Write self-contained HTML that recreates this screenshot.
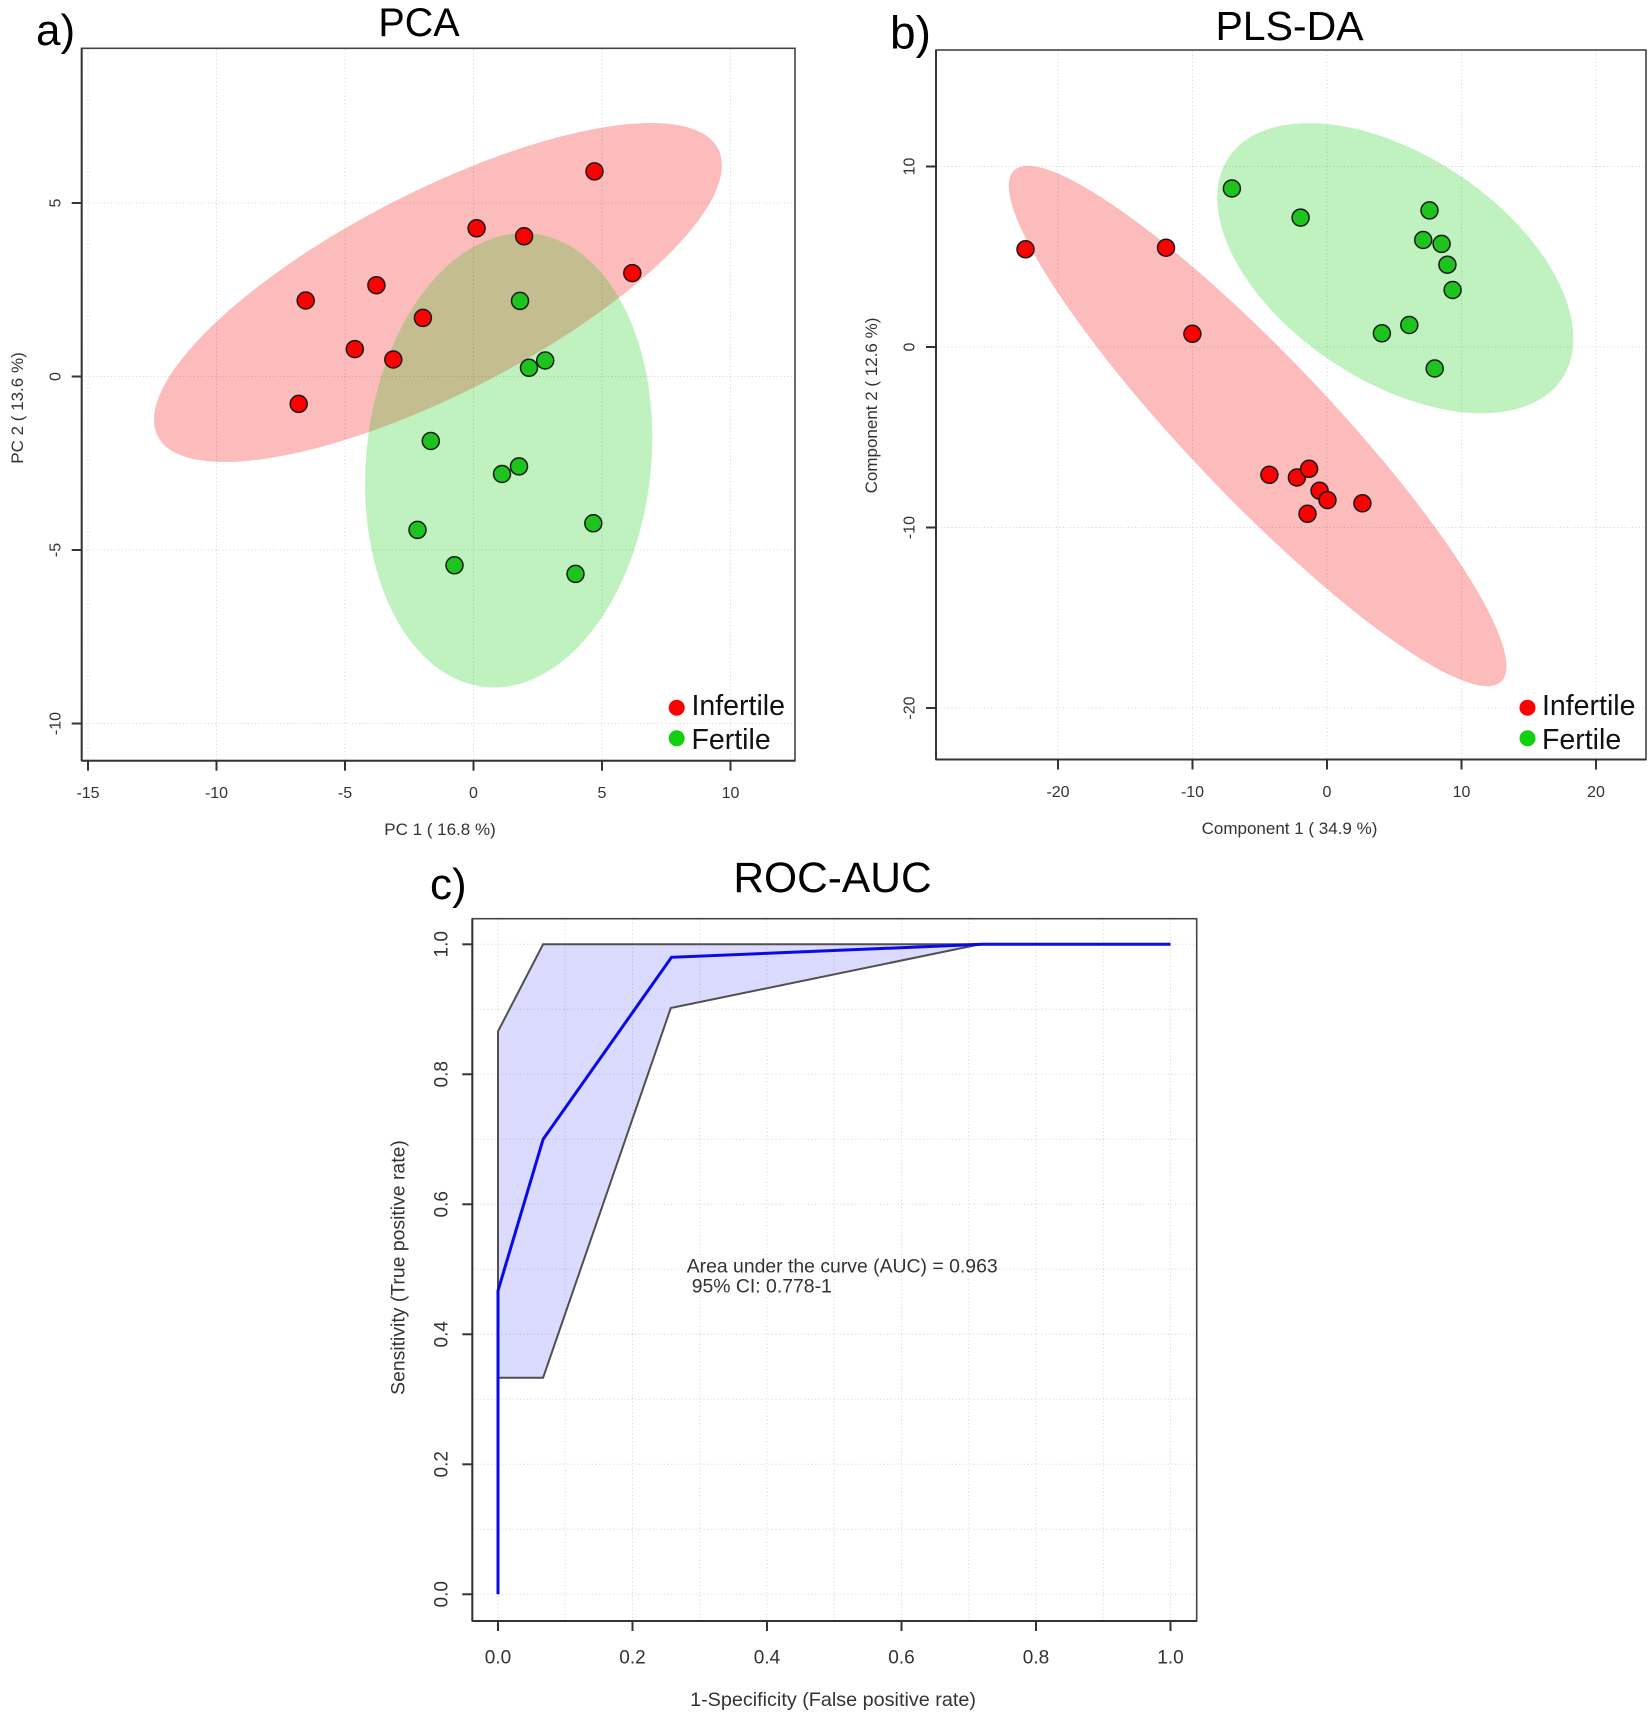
<!DOCTYPE html>
<html>
<head>
<meta charset="utf-8">
<style>
  html,body{margin:0;padding:0;background:#fff;}
  svg{display:block;}
  text{font-family:"Liberation Sans", Arial, sans-serif;}
</style>
</head>
<body>
<svg width="1650" height="1721" viewBox="0 0 1650 1721" xmlns="http://www.w3.org/2000/svg">
  <defs>
    <clipPath id="pcaRed">
      <ellipse cx="-1.384" cy="2.42" rx="11.69" ry="3.05" transform="rotate(19.76 -1.384 2.42)"/>
    </clipPath>
  </defs>
  <rect x="0" y="0" width="1650" height="1721" fill="#fff"/>

  <!-- ================= PCA ================= -->
  <text x="36" y="45" font-size="44" fill="#000">a)</text>
  <text x="419" y="36" font-size="39.5" fill="#000" text-anchor="middle">PCA</text>

  <!-- ellipses -->
  <g transform="translate(473.5,376.5) scale(25.7,-34.7)">
    <ellipse cx="-1.384" cy="2.42" rx="11.69" ry="3.05" transform="rotate(19.76 -1.384 2.42)" fill="#fcbcbc"/>
    <ellipse cx="1.369" cy="-2.415" rx="6.63" ry="5.49" transform="rotate(73.7 1.369 -2.415)" fill="#bff2bf"/>
    <g clip-path="url(#pcaRed)">
      <ellipse cx="1.369" cy="-2.415" rx="6.63" ry="5.49" transform="rotate(73.7 1.369 -2.415)" fill="#c4bd8f"/>
    </g>
  </g>

  <!-- grid -->
  <g stroke="#000" stroke-opacity="0.15" stroke-width="1" stroke-dasharray="1.2,2.4">
    <line x1="88" y1="49" x2="88" y2="760"/>
    <line x1="216.5" y1="49" x2="216.5" y2="760"/>
    <line x1="345" y1="49" x2="345" y2="760"/>
    <line x1="473.5" y1="49" x2="473.5" y2="760"/>
    <line x1="602" y1="49" x2="602" y2="760"/>
    <line x1="730.5" y1="49" x2="730.5" y2="760"/>
    <line x1="82" y1="203" x2="795" y2="203"/>
    <line x1="82" y1="376.5" x2="795" y2="376.5"/>
    <line x1="82" y1="550" x2="795" y2="550"/>
    <line x1="82" y1="723.5" x2="795" y2="723.5"/>
  </g>

  <!-- points -->
  <g stroke="#1a1a1a" stroke-width="1.5" fill="#ff0000">
    <circle cx="594.5" cy="171.4" r="8.5"/>
    <circle cx="476.6" cy="228.3" r="8.5"/>
    <circle cx="524.1" cy="236.3" r="8.5"/>
    <circle cx="632.3" cy="273.1" r="8.5"/>
    <circle cx="305.7" cy="300.5" r="8.5"/>
    <circle cx="376.4" cy="285.2" r="8.5"/>
    <circle cx="422.9" cy="317.9" r="8.5"/>
    <circle cx="354.8" cy="349.1" r="8.5"/>
    <circle cx="393.3" cy="359.5" r="8.5"/>
    <circle cx="298.7" cy="403.9" r="8.5"/>
  </g>
  <g stroke="#1a1a1a" stroke-width="1.5" fill="#1ec41e">
    <circle cx="520.0" cy="300.9" r="8.5"/>
    <circle cx="545.2" cy="360.5" r="8.5"/>
    <circle cx="529.0" cy="367.8" r="8.5"/>
    <circle cx="430.8" cy="441.0" r="8.5"/>
    <circle cx="502.0" cy="474.0" r="8.5"/>
    <circle cx="519.0" cy="466.4" r="8.5"/>
    <circle cx="417.5" cy="529.9" r="8.5"/>
    <circle cx="593.3" cy="523.3" r="8.5"/>
    <circle cx="454.5" cy="565.3" r="8.5"/>
    <circle cx="575.5" cy="573.9" r="8.5"/>
  </g>

  <!-- box & axes -->
  <rect x="81.7" y="48.3" width="713.3" height="712.4" fill="none" stroke="#444" stroke-width="1.6"/>
  <g stroke="#333" stroke-width="2">
    <line x1="81.7" y1="48.3" x2="81.7" y2="760.7"/>
    <line x1="81.7" y1="760.7" x2="795" y2="760.7"/>
    <line x1="88" y1="760.7" x2="88" y2="770.7"/>
    <line x1="216.5" y1="760.7" x2="216.5" y2="770.7"/>
    <line x1="345" y1="760.7" x2="345" y2="770.7"/>
    <line x1="473.5" y1="760.7" x2="473.5" y2="770.7"/>
    <line x1="602" y1="760.7" x2="602" y2="770.7"/>
    <line x1="730.5" y1="760.7" x2="730.5" y2="770.7"/>
    <line x1="71.7" y1="203" x2="81.7" y2="203"/>
    <line x1="71.7" y1="376.5" x2="81.7" y2="376.5"/>
    <line x1="71.7" y1="550" x2="81.7" y2="550"/>
    <line x1="71.7" y1="723.5" x2="81.7" y2="723.5"/>
  </g>
  <g font-size="16" fill="#333" text-anchor="middle">
    <text x="88" y="798">-15</text>
    <text x="216.5" y="798">-10</text>
    <text x="345" y="798">-5</text>
    <text x="473.5" y="798">0</text>
    <text x="602" y="798">5</text>
    <text x="730.5" y="798">10</text>
    <text transform="translate(55,203) rotate(-90)" dy="0.35em">5</text>
    <text transform="translate(55,376.5) rotate(-90)" dy="0.35em">0</text>
    <text transform="translate(55,550) rotate(-90)" dy="0.35em">-5</text>
    <text transform="translate(55,723.5) rotate(-90)" dy="0.35em">-10</text>
  </g>
  <text x="440" y="835" font-size="17" fill="#333" text-anchor="middle">PC 1 ( 16.8 %)</text>
  <text transform="translate(17,408) rotate(-90)" dy="0.35em" font-size="17" fill="#333" text-anchor="middle">PC 2 ( 13.6 %)</text>

  <!-- legend -->
  <circle cx="676.7" cy="707.7" r="8" fill="#ff0000"/>
  <circle cx="676.7" cy="738.3" r="8" fill="#10d010"/>
  <text x="691.5" y="715" font-size="28.5" fill="#111">Infertile</text>
  <text x="691.5" y="749" font-size="28.5" fill="#111">Fertile</text>

  <!-- ================= PLS-DA ================= -->
  <text x="890" y="48.5" font-size="46" fill="#000">b)</text>
  <text x="1289.5" y="40" font-size="41" fill="#000" text-anchor="middle">PLS-DA</text>

  <g transform="translate(1327,347) scale(13.45,-18.05)">
    <ellipse cx="-5.158" cy="-4.376" rx="23.03" ry="4.45" transform="rotate(-37.36 -5.158 -4.376)" fill="#fcbcbc"/>
    <ellipse cx="5.076" cy="4.367" rx="13.99" ry="6.65" transform="rotate(-21.53 5.076 4.367)" fill="#bff2bf"/>
  </g>

  <g stroke="#000" stroke-opacity="0.15" stroke-width="1" stroke-dasharray="1.2,2.4">
    <line x1="1058" y1="51" x2="1058" y2="759"/>
    <line x1="1192.5" y1="51" x2="1192.5" y2="759"/>
    <line x1="1327" y1="51" x2="1327" y2="759"/>
    <line x1="1461.5" y1="51" x2="1461.5" y2="759"/>
    <line x1="1596" y1="51" x2="1596" y2="759"/>
    <line x1="937" y1="166.5" x2="1645" y2="166.5"/>
    <line x1="937" y1="347" x2="1645" y2="347"/>
    <line x1="937" y1="527.5" x2="1645" y2="527.5"/>
    <line x1="937" y1="708" x2="1645" y2="708"/>
  </g>

  <g stroke="#1a1a1a" stroke-width="1.5" fill="#ff0000">
    <circle cx="1025.5" cy="249.3" r="8.5"/>
    <circle cx="1166.0" cy="247.7" r="8.5"/>
    <circle cx="1192.4" cy="333.8" r="8.5"/>
    <circle cx="1269.4" cy="474.8" r="8.5"/>
    <circle cx="1296.9" cy="477.5" r="8.5"/>
    <circle cx="1309.1" cy="468.8" r="8.5"/>
    <circle cx="1319.6" cy="490.7" r="8.5"/>
    <circle cx="1327.5" cy="500.1" r="8.5"/>
    <circle cx="1307.5" cy="513.8" r="8.5"/>
    <circle cx="1362.4" cy="503.3" r="8.5"/>
  </g>
  <g stroke="#1a1a1a" stroke-width="1.5" fill="#1ec41e">
    <circle cx="1231.9" cy="188.5" r="8.5"/>
    <circle cx="1300.6" cy="217.6" r="8.5"/>
    <circle cx="1429.5" cy="210.4" r="8.5"/>
    <circle cx="1423.2" cy="240.0" r="8.5"/>
    <circle cx="1441.6" cy="243.9" r="8.5"/>
    <circle cx="1447.4" cy="264.7" r="8.5"/>
    <circle cx="1452.6" cy="290.0" r="8.5"/>
    <circle cx="1381.9" cy="333.3" r="8.5"/>
    <circle cx="1409.3" cy="325.0" r="8.5"/>
    <circle cx="1434.7" cy="368.5" r="8.5"/>
  </g>

  <rect x="936" y="50" width="710" height="709.5" fill="none" stroke="#444" stroke-width="1.6"/>
  <g stroke="#333" stroke-width="2">
    <line x1="936" y1="50" x2="936" y2="759.5"/>
    <line x1="936" y1="759.5" x2="1646" y2="759.5"/>
    <line x1="1058" y1="759.5" x2="1058" y2="769.5"/>
    <line x1="1192.5" y1="759.5" x2="1192.5" y2="769.5"/>
    <line x1="1327" y1="759.5" x2="1327" y2="769.5"/>
    <line x1="1461.5" y1="759.5" x2="1461.5" y2="769.5"/>
    <line x1="1596" y1="759.5" x2="1596" y2="769.5"/>
    <line x1="926" y1="166.5" x2="936" y2="166.5"/>
    <line x1="926" y1="347" x2="936" y2="347"/>
    <line x1="926" y1="527.5" x2="936" y2="527.5"/>
    <line x1="926" y1="708" x2="936" y2="708"/>
  </g>
  <g font-size="16" fill="#333" text-anchor="middle">
    <text x="1058" y="797">-20</text>
    <text x="1192.5" y="797">-10</text>
    <text x="1327" y="797">0</text>
    <text x="1461.5" y="797">10</text>
    <text x="1596" y="797">20</text>
    <text transform="translate(909,166.5) rotate(-90)" dy="0.35em">10</text>
    <text transform="translate(909,347) rotate(-90)" dy="0.35em">0</text>
    <text transform="translate(909,527.5) rotate(-90)" dy="0.35em">-10</text>
    <text transform="translate(909,708) rotate(-90)" dy="0.35em">-20</text>
  </g>
  <text x="1289.5" y="834" font-size="17" fill="#333" text-anchor="middle">Component 1 ( 34.9 %)</text>
  <text transform="translate(871,405.5) rotate(-90)" dy="0.35em" font-size="17" fill="#333" text-anchor="middle">Component 2 ( 12.6 %)</text>

  <circle cx="1527.5" cy="707.7" r="8" fill="#ff0000"/>
  <circle cx="1527.5" cy="738.3" r="8" fill="#10d010"/>
  <text x="1542" y="715" font-size="28.5" fill="#111">Infertile</text>
  <text x="1542" y="749" font-size="28.5" fill="#111">Fertile</text>

  <!-- ================= ROC ================= -->
  <text x="430" y="899" font-size="44" fill="#000">c)</text>
  <text x="832.5" y="892" font-size="42.5" fill="#000" text-anchor="middle">ROC-AUC</text>

  <g stroke="#000" stroke-opacity="0.15" stroke-width="1" stroke-dasharray="1.2,2.4">
    <line x1="498" y1="919" x2="498" y2="1620"/>
    <line x1="565.25" y1="919" x2="565.25" y2="1620"/>
    <line x1="632.5" y1="919" x2="632.5" y2="1620"/>
    <line x1="699.75" y1="919" x2="699.75" y2="1620"/>
    <line x1="767" y1="919" x2="767" y2="1620"/>
    <line x1="834.25" y1="919" x2="834.25" y2="1620"/>
    <line x1="901.5" y1="919" x2="901.5" y2="1620"/>
    <line x1="968.75" y1="919" x2="968.75" y2="1620"/>
    <line x1="1036" y1="919" x2="1036" y2="1620"/>
    <line x1="1103.25" y1="919" x2="1103.25" y2="1620"/>
    <line x1="1170.5" y1="919" x2="1170.5" y2="1620"/>
    <line x1="473" y1="944.3" x2="1196" y2="944.3"/>
    <line x1="473" y1="1009.3" x2="1196" y2="1009.3"/>
    <line x1="473" y1="1074.3" x2="1196" y2="1074.3"/>
    <line x1="473" y1="1139.3" x2="1196" y2="1139.3"/>
    <line x1="473" y1="1204.3" x2="1196" y2="1204.3"/>
    <line x1="473" y1="1269.3" x2="1196" y2="1269.3"/>
    <line x1="473" y1="1334.3" x2="1196" y2="1334.3"/>
    <line x1="473" y1="1399.3" x2="1196" y2="1399.3"/>
    <line x1="473" y1="1464.3" x2="1196" y2="1464.3"/>
    <line x1="473" y1="1529.3" x2="1196" y2="1529.3"/>
    <line x1="473" y1="1594.3" x2="1196" y2="1594.3"/>
  </g>

  <!-- CI band -->
  <polygon points="498,1377.7 498,1031.4 543.1,944.3 1170.5,944.3 980.2,944.3 670.8,1008 543.1,1377.7"
           fill="#0000ff" fill-opacity="0.14" stroke="#505050" stroke-width="2" stroke-linejoin="miter"/>
  <!-- ROC curve -->
  <polyline points="498,1594.3 498,1290.7 543.1,1139.3 671.5,957.3 982.2,944.3 1170.5,944.3"
            fill="none" stroke="#0a0ae8" stroke-width="3"/>

  <rect x="472.3" y="918.7" width="724.4" height="702.3" fill="none" stroke="#444" stroke-width="1.6"/>
  <g stroke="#333" stroke-width="2">
    <line x1="472.3" y1="918.7" x2="472.3" y2="1621"/>
    <line x1="472.3" y1="1621" x2="1196.7" y2="1621"/>
    <line x1="498" y1="1621" x2="498" y2="1631"/>
    <line x1="632.5" y1="1621" x2="632.5" y2="1631"/>
    <line x1="767" y1="1621" x2="767" y2="1631"/>
    <line x1="901.5" y1="1621" x2="901.5" y2="1631"/>
    <line x1="1036" y1="1621" x2="1036" y2="1631"/>
    <line x1="1170.5" y1="1621" x2="1170.5" y2="1631"/>
    <line x1="462.3" y1="944.3" x2="472.3" y2="944.3"/>
    <line x1="462.3" y1="1074.3" x2="472.3" y2="1074.3"/>
    <line x1="462.3" y1="1204.3" x2="472.3" y2="1204.3"/>
    <line x1="462.3" y1="1334.3" x2="472.3" y2="1334.3"/>
    <line x1="462.3" y1="1464.3" x2="472.3" y2="1464.3"/>
    <line x1="462.3" y1="1594.3" x2="472.3" y2="1594.3"/>
  </g>
  <g font-size="19" fill="#333" text-anchor="middle">
    <text x="498" y="1663.5">0.0</text>
    <text x="632.5" y="1663.5">0.2</text>
    <text x="767" y="1663.5">0.4</text>
    <text x="901.5" y="1663.5">0.6</text>
    <text x="1036" y="1663.5">0.8</text>
    <text x="1170.5" y="1663.5">1.0</text>
    <text transform="translate(441,944.3) rotate(-90)" dy="0.35em">1.0</text>
    <text transform="translate(441,1074.3) rotate(-90)" dy="0.35em">0.8</text>
    <text transform="translate(441,1204.3) rotate(-90)" dy="0.35em">0.6</text>
    <text transform="translate(441,1334.3) rotate(-90)" dy="0.35em">0.4</text>
    <text transform="translate(441,1464.3) rotate(-90)" dy="0.35em">0.2</text>
    <text transform="translate(441,1594.3) rotate(-90)" dy="0.35em">0.0</text>
  </g>
  <text x="833" y="1706" font-size="19.8" fill="#333" text-anchor="middle">1-Specificity (False positive rate)</text>
  <text transform="translate(397.5,1267.5) rotate(-90)" dy="0.35em" font-size="19.4" fill="#333" text-anchor="middle">Sensitivity (True positive rate)</text>

  <text x="686.7" y="1272.3" font-size="19.4" fill="#333">Area under the curve (AUC) = 0.963</text>
  <text x="691.7" y="1292.5" font-size="19.4" fill="#333">95% CI: 0.778-1</text>
</svg>
</body>
</html>
